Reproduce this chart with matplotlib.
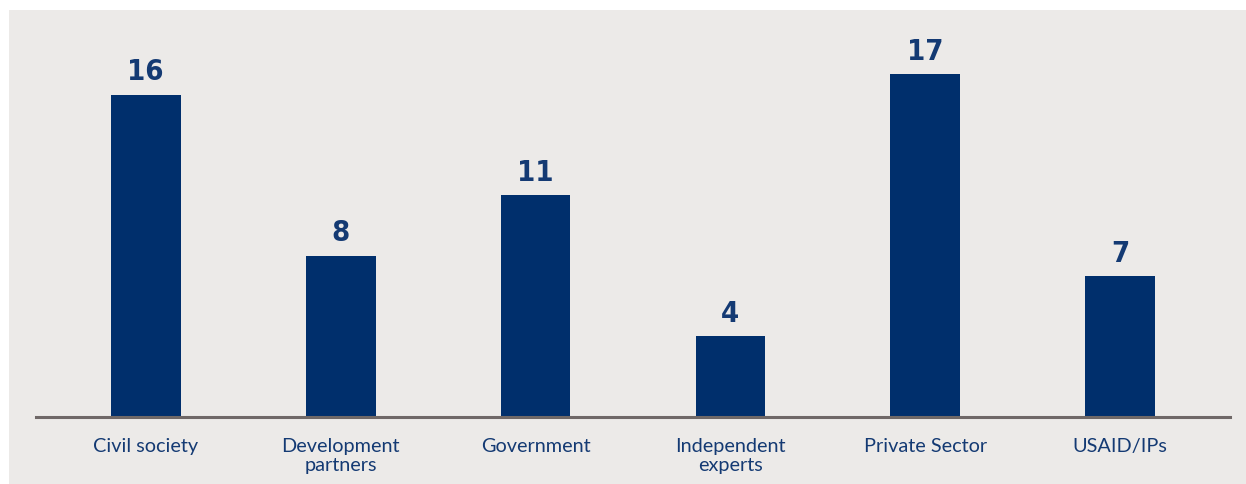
import matplotlib
matplotlib.use("Agg")
import matplotlib.pyplot as plt
from matplotlib.patches import Rectangle

categories = ["Civil society", "Development\npartners", "Government",
              "Independent\nexperts", "Private Sector", "USAID/IPs"]
counts = [16, 8, 11, 4, 17, 7]

NAVY = "#002F6C"
TEXT = "#143A73"
PANEL = "#ECEAE8"
RULE = "#6F6867"

W, H = 1246, 484
fig = plt.figure(figsize=(W / 100, H / 100), dpi=100)
fig.patch.set_facecolor("white")

# light grey panel behind the chart
fig.patches.append(Rectangle((9 / W, 0), 1 - 9 / W, 1 - 10 / H,
                             transform=fig.transFigure, facecolor=PANEL,
                             edgecolor="none", linewidth=0, zorder=-10))

left, right = 36 / W, 1230 / W
bottom = (H - 417) / H
top = (H - 14) / H
ax = fig.add_axes([left, bottom, right - left, top - bottom])
ax.set_facecolor("none")
ax.set_zorder(5)

x = list(range(len(categories)))
ax.bar(x, counts, width=0.358, color=NAVY, zorder=2)
ax.set_xlim(-0.563, len(categories) - 1 + 0.563)
ax.set_ylim(0, 20)

for xi, v in zip(x, counts):
    ax.annotate(str(v), (xi, v), xytext=(0, 6), textcoords="offset points",
                ha="center", va="bottom", color=TEXT, fontsize=21,
                fontweight="bold", fontstretch="condensed",
                family="DejaVu Sans")

for s in ["top", "right", "left"]:
    ax.spines[s].set_visible(False)
ax.spines["bottom"].set_color(RULE)
ax.spines["bottom"].set_linewidth(2.2)
ax.set_yticks([])
ax.set_xticks(x)
ax.set_xticklabels(categories, fontsize=14.3, color=TEXT, family="Lato",
                   linespacing=1.12)
ax.tick_params(axis="x", length=0, pad=15)

fig.savefig("out.png", dpi=100, facecolor=fig.get_facecolor())
